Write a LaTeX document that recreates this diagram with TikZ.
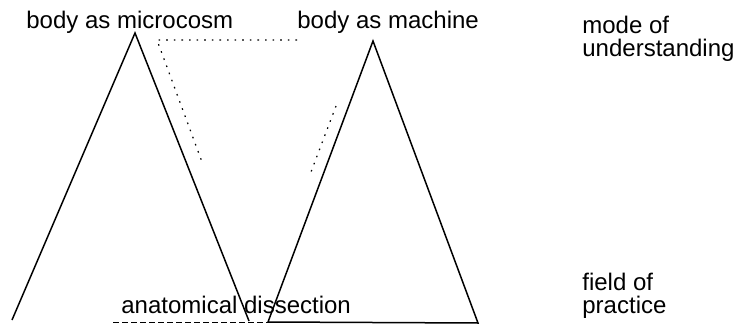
\documentclass[tikz,border=0pt]{standalone}
\usepackage{fontspec}
\setmainfont{Liberation Sans}
\usepackage{tikz}
\usetikzlibrary{positioning,calc}

\begin{document}
\begin{tikzpicture}[x=0.5pt,y=-0.5pt,font=\fontsize{12}{11.5}\selectfont,
  lbl/.style={inner sep=0pt,anchor=base west},
  leg/.style={line width=0.75pt},
  faint/.style={line width=0.6pt,dash pattern=on 0.8pt off 3pt}]
  \useasboundingbox (0,0) rectangle (741,327);
  % labels
  \node[lbl] (microcosm) at (26,28) {body as microcosm};
  \node[lbl] (machine) at (297,28) {body as machine};
  \node[lbl,align=left] (mode) at (582,56) {mode of\\understanding};
  \node[lbl,align=left] (field) at (582,313) {field of\\practice};
  \node[lbl] (dissection) at (121,313) {anatomical dissection};
  % the two triangles
  \coordinate (mcApex) at (135,33);
  \coordinate (mcLeft) at (12,320);
  \coordinate (mcRight) at (249,321);
  \coordinate (maApex) at (373,41);
  \coordinate (maLeft) at (268,322);
  \coordinate (maRight) at (478,323);
  \draw[leg] (mcLeft) -- (mcApex) -- (mcRight);
  \draw[leg] (maLeft) -- (maApex) -- (maRight) -- (maLeft);
  \coordinate (ulStart) at (113,322);
  \draw[line width=0.5pt,dash pattern=on 3pt off 1.5pt] (ulStart) -- (maLeft);
  % dotted link
  \coordinate (dA) at (157,40);
  \coordinate (dB) at (297,40);
  \coordinate (dC) at (202,162);
  \coordinate (dD) at (336,106);
  \coordinate (dE) at (311,172);
  \draw[faint] (dB) -- (dA) -- (dC);
  \draw[faint] (dD) -- (dE);
\end{tikzpicture}
\end{document}
